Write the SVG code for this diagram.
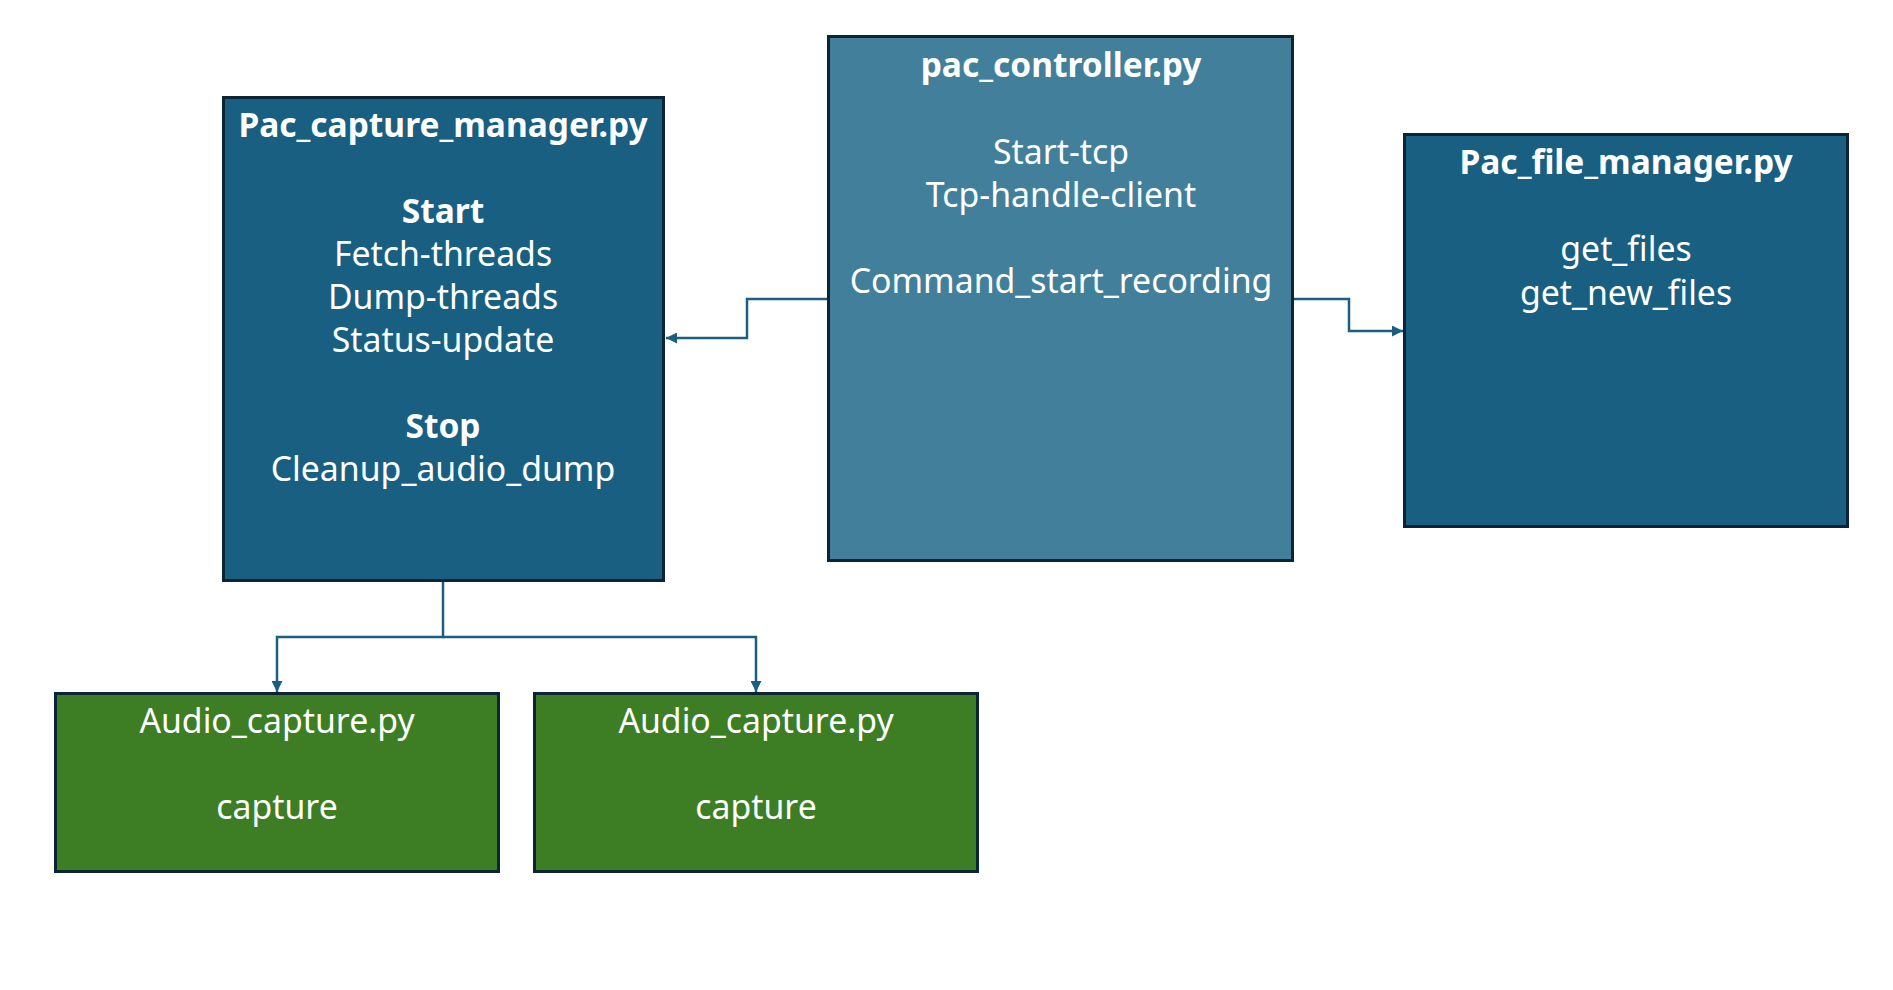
<svg xmlns="http://www.w3.org/2000/svg" width="1893" height="990" viewBox="0 0 1893 990">
<style>
.box{stroke:#0b2535;stroke-width:3}
.dark{fill:#185f81}
.mid{fill:#427f9b}
.green{fill:#3d7d24}
text{font-family:"Noto Sans","Open Sans","Liberation Sans",sans-serif;font-size:33.8px;fill:#ffffff;text-anchor:middle}
.b{font-weight:bold;font-size:33.5px}
.conn{fill:none;stroke:#1a5f82;stroke-width:2.5}
</style>
<defs>
<marker id="arrow" viewBox="0 0 10 10" refX="10" refY="5" markerWidth="11" markerHeight="11" markerUnits="userSpaceOnUse" orient="auto">
<path d="M0,0 L10,5 L0,10 z" fill="#1a5f82"/>
</marker>
</defs>
<rect width="1893" height="990" fill="#ffffff"/>
<g id="connectors">
<path class="conn" d="M828 299 H747 V338 H666" marker-end="url(#arrow)"/>
<path class="conn" d="M1294 299 H1349 V331 H1403" marker-end="url(#arrow)"/>
<path class="conn" d="M443 582 V637 H277 V692" marker-end="url(#arrow)"/>
<path class="conn" d="M443 637 H756 V692" marker-end="url(#arrow)"/>
</g>
<g id="pac_capture_manager">
<rect class="box dark" x="223.5" y="97.5" width="440" height="483"/>
<text class="b" x="443" y="137">Pac_capture_manager.py</text>
<text class="b" x="443" y="223">Start</text>
<text x="443" y="266">Fetch-threads</text>
<text x="443" y="309">Dump-threads</text>
<text x="443" y="352">Status-update</text>
<text class="b" x="443" y="438">Stop</text>
<text x="443" y="481">Cleanup_audio_dump</text>
</g>
<g id="pac_controller">
<rect class="box mid" x="828.5" y="36.5" width="464" height="524"/>
<text class="b" x="1061" y="77">pac_controller.py</text>
<text x="1061" y="164">Start-tcp</text>
<text x="1061" y="207">Tcp-handle-client</text>
<text x="1061" y="293">Command_start_recording</text>
</g>
<g id="pac_file_manager">
<rect class="box dark" x="1404.5" y="134.5" width="443" height="392"/>
<text class="b" x="1626" y="174">Pac_file_manager.py</text>
<text x="1626" y="261">get_files</text>
<text x="1626" y="305">get_new_files</text>
</g>
<g id="audio_capture_1">
<rect class="box green" x="55.5" y="693.5" width="443" height="178"/>
<text x="277" y="733">Audio_capture.py</text>
<text x="277" y="819">capture</text>
</g>
<g id="audio_capture_2">
<rect class="box green" x="534.5" y="693.5" width="443" height="178"/>
<text x="756" y="733">Audio_capture.py</text>
<text x="756" y="819">capture</text>
</g>
</svg>
